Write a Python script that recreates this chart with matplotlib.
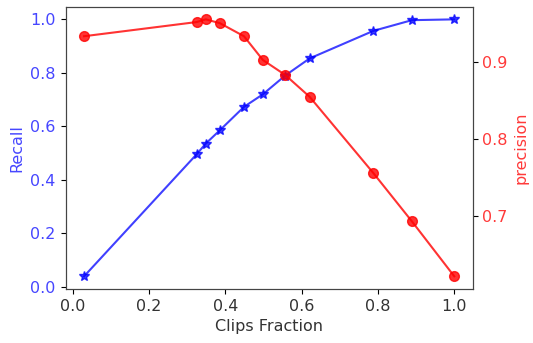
import matplotlib
matplotlib.use("Agg")
import matplotlib.pyplot as plt

# values
clips_fraction = [0.03, 0.325, 0.349, 0.386, 0.449, 0.4985, 0.557, 0.621, 0.788, 0.889, 1.0]
recall = [0.04, 0.496, 0.536, 0.586, 0.673, 0.72, 0.79, 0.854, 0.957, 0.997, 1.0]
precision = [0.934, 0.9525, 0.956, 0.951, 0.934, 0.903, 0.8835, 0.855, 0.7555, 0.6925, 0.6208]

plt.rcParams['font.size'] = 11.5

fig = plt.figure(figsize=(5.33, 3.43), dpi=100)
ax = fig.add_axes([0.123, 0.157, 0.764, 0.824])

ax.plot(clips_fraction, recall, color='blue', marker='*', markersize=7, lw=1.5, alpha=0.75)
ax.set_xlabel('Clips Fraction', color='#333333')
ax.set_ylabel('Recall', color='#4646ff')
ax.tick_params(axis='y', labelcolor='#4646ff')
ax.tick_params(axis='x', labelcolor='#333333')
ax.set_xticks([0.0, 0.2, 0.4, 0.6, 0.8, 1.0])

ax2 = ax.twinx()
ax2.plot(clips_fraction, precision, color='red', marker='o', markersize=7, lw=1.5, alpha=0.8)
ax2.set_ylabel('precision', color='#ff3a3a')
ax2.tick_params(axis='y', labelcolor='#ff3a3a')
ax2.set_yticks([0.7, 0.8, 0.9])

for a in (ax, ax2):
    for s in a.spines.values():
        s.set_color('#444444')

fig.savefig('out.png', dpi=100)
